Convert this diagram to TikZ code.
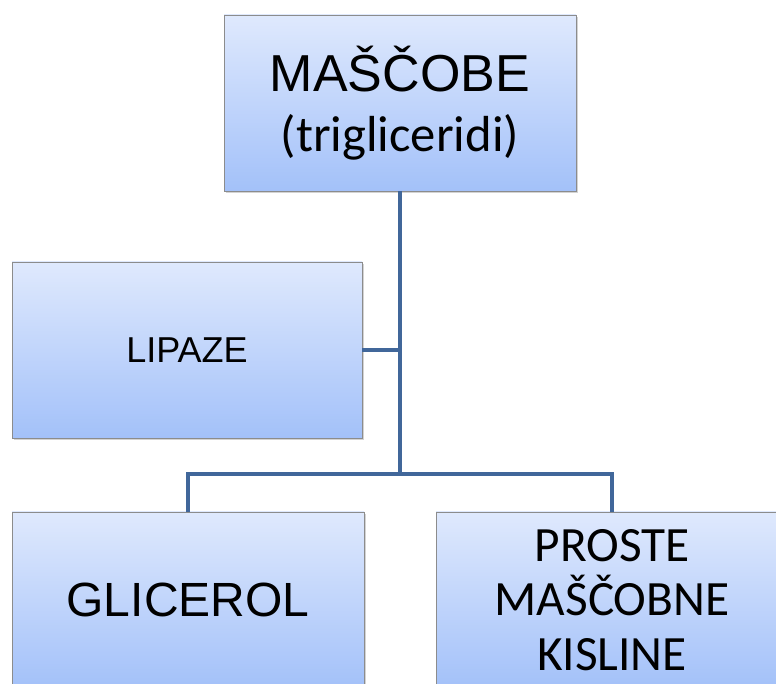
\documentclass[tikz,border=0pt]{standalone}
\usepackage{fontspec}
\setmainfont{Liberation Sans}
\newfontfamily\calib{Carlito}
\usepackage{tikz}
\usetikzlibrary{shadows}
\definecolor{boxtop}{HTML}{DFE9FD}
\definecolor{boxbot}{HTML}{A3C1F9}
\definecolor{linkblue}{HTML}{41679A}

\begin{document}
\begin{tikzpicture}[x=0.75pt, y=-0.75pt,
  topic/.style={draw=black!45, line width=0.6pt, top color=boxtop, bottom color=boxbot,
    minimum width=264pt, minimum height=132pt, align=center, inner sep=0pt,
    drop shadow={shadow xshift=1.2pt, shadow yshift=-1.8pt, opacity=0.35}},
  link/.style={draw=linkblue, line width=3pt}]
\useasboundingbox (0,0) rectangle (776,684);

\node[topic, font=\fontsize{39}{45}\selectfont] (fats) at (400,103) {MAŠČOBE\\{\calib\fontsize{38}{45}\selectfont (trigliceridi)}};
\node[topic, minimum width=262.5pt, font=\fontsize{27}{30}\selectfont] (lipase) at (187,350) {LIPAZE};
\node[topic, font=\fontsize{36}{40}\selectfont] (glycerol) at (188,600) {GLICEROL};
\node[topic, font=\calib\fontsize{37}{41}\selectfont] (acids) at (612,600) {PROSTE\\MAŠČOBNE\\KISLINE};

\coordinate (split) at (400,474);
\draw[link] (fats.south) -- (split);
\draw[link] (lipase.east) -- (lipase.east -| fats.south);
\draw[link] (split) -| (glycerol.north);
\draw[link] (split) -| (acids.north);
\end{tikzpicture}
\end{document}
